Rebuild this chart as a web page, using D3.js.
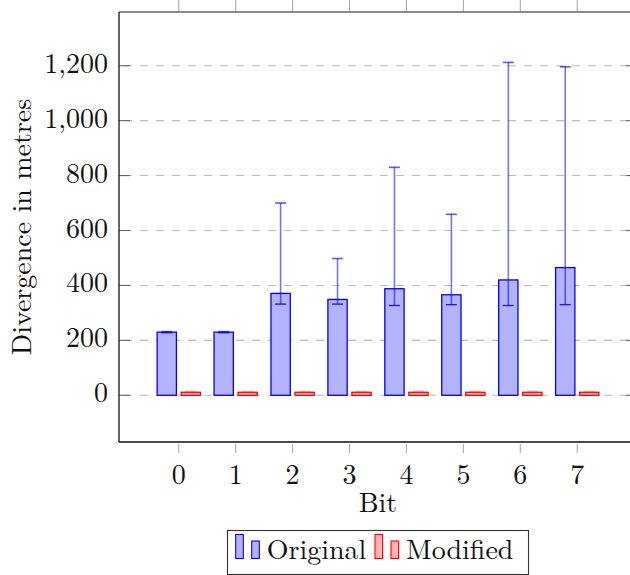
<!DOCTYPE html>
<meta charset="utf-8">
<style>
body { margin: 0; background: white; }
text { font-family: "Latin Modern Roman", "CMU Serif", "Liberation Serif", serif; fill: #111; }
</style>
<div id="chart"></div>
<script src="https://cdn.jsdelivr.net/npm/d3@7"></script>
<script>

// Bits on the x axis
var bits = [0, 1, 2, 3, 4, 5, 6, 7];

// Original series: bar value and error bar range
var original     = [230, 230, 371, 349, 388, 366, 420, 465];
var originalLow  = [228, 228, 332, 332, 327, 330, 327, 330];
var originalHigh = [232, 232, 700, 498, 830, 659, 1212, 1196];

// Modified series
var modified     = [11, 11, 11, 11, 11, 11, 11, 11];
var modifiedHigh = [14, 14, 14, 14, 15, 14, 15, 14];

var yTicks = [0, 200, 400, 600, 800, 1000, 1200];
var legendKeys = ["Original", "Modified"];

var W = 630, H = 575;
var plot = {left: 119, right: 637, top: 12, bottom: 442};

var svg = d3.select("#chart")
  .append("svg")
    .attr("width", W)
    .attr("height", H);

var x = d3.scaleLinear()
  .domain([-1.05, 8.05])
  .range([plot.left, plot.right]);
var y = d3.scaleLinear()
  .domain([-170, 1395.5])
  .range([plot.bottom, plot.top]);

var barW = 19.3, barOff = 12, capW = 11;

// gridlines
svg.append("g")
  .selectAll("line")
  .data(yTicks)
  .enter()
  .append("line")
    .attr("x1", plot.left)
    .attr("x2", plot.right)
    .attr("y1", function(d){ return y(d); })
    .attr("y2", function(d){ return y(d); })
    .attr("stroke", "#bbb")
    .attr("stroke-width", 1.1)
    .attr("stroke-dasharray", "8,8")
    .attr("stroke-dashoffset", -5);

// y ticks (inside, both sides)
var yt = svg.append("g");
yTicks.forEach(function(d) {
  yt.append("line")
    .attr("x1", plot.left).attr("x2", plot.left + 11)
    .attr("y1", y(d)).attr("y2", y(d))
    .attr("stroke", "#666").attr("stroke-width", 1.1);
  yt.append("line")
    .attr("x1", plot.right - 11).attr("x2", plot.right)
    .attr("y1", y(d)).attr("y2", y(d))
    .attr("stroke", "#666").attr("stroke-width", 1.1);
});

// x ticks (outside, top and bottom)
svg.append("g")
  .selectAll("line.xb")
  .data(bits)
  .enter()
  .append("line")
    .attr("x1", function(d){ return x(d); })
    .attr("x2", function(d){ return x(d); })
    .attr("y1", plot.bottom + 2)
    .attr("y2", plot.bottom + 11)
    .attr("stroke", "#aaa").attr("stroke-width", 1.1);
svg.append("g")
  .selectAll("line.xt")
  .data(bits)
  .enter()
  .append("line")
    .attr("x1", function(d){ return x(d); })
    .attr("x2", function(d){ return x(d); })
    .attr("y1", 0)
    .attr("y2", plot.top - 1)
    .attr("stroke", "#aaa").attr("stroke-width", 1.1);

// Original bars
svg.append("g")
  .selectAll("rect")
  .data(bits)
  .enter()
  .append("rect")
    .attr("x", function(d, i){ return x(d) - barOff - barW / 2; })
    .attr("y", function(d, i){ return y(original[i]); })
    .attr("width", barW)
    .attr("height", function(d, i){ return y(0) - y(original[i]); })
    .attr("fill", "#b3b3ff")
    .attr("stroke", "#0000ff")
    .attr("stroke-width", 1.3);

// Modified bars
svg.append("g")
  .selectAll("rect")
  .data(bits)
  .enter()
  .append("rect")
    .attr("x", function(d, i){ return x(d) + barOff - barW / 2; })
    .attr("y", function(d, i){ return y(modified[i]); })
    .attr("width", barW)
    .attr("height", function(d, i){ return y(0) - y(modified[i]); })
    .attr("fill", "#ffb3b3")
    .attr("stroke", "#ff0000")
    .attr("stroke-width", 1.3);

// Original error bars
var eb = svg.append("g");
bits.forEach(function(d, i) {
  var cx = x(d) - barOff;
  eb.append("line")
    .attr("x1", cx).attr("x2", cx)
    .attr("y1", y(originalLow[i])).attr("y2", y(originalHigh[i]))
    .attr("stroke", "#0000ff").attr("stroke-opacity", 0.55).attr("stroke-width", 1.6);
  eb.append("line")
    .attr("x1", cx - capW / 2).attr("x2", cx + capW / 2)
    .attr("y1", y(originalHigh[i])).attr("y2", y(originalHigh[i]))
    .attr("stroke", "#0000ff").attr("stroke-opacity", 0.65).attr("stroke-width", 1.6);
  eb.append("line")
    .attr("x1", cx - capW / 2).attr("x2", cx + capW / 2)
    .attr("y1", y(originalLow[i])).attr("y2", y(originalLow[i]))
    .attr("stroke", "#0000ff").attr("stroke-opacity", 0.85).attr("stroke-width", 1.4);
});

// Modified error bars (tiny)
bits.forEach(function(d, i) {
  var cx = x(d) + barOff;
  eb.append("line")
    .attr("x1", cx - capW / 2).attr("x2", cx + capW / 2)
    .attr("y1", y(modifiedHigh[i])).attr("y2", y(modifiedHigh[i]))
    .attr("stroke", "#ff0000").attr("stroke-opacity", 0.25).attr("stroke-width", 1.4);
});

// axis frame
svg.append("line")
  .attr("x1", plot.left).attr("x2", plot.right)
  .attr("y1", plot.top).attr("y2", plot.top)
  .attr("stroke", "#666").attr("stroke-width", 1.3);
svg.append("line")
  .attr("x1", plot.left).attr("x2", plot.right)
  .attr("y1", plot.bottom).attr("y2", plot.bottom)
  .attr("stroke", "#111").attr("stroke-width", 1.3);
svg.append("line")
  .attr("x1", plot.left).attr("x2", plot.left)
  .attr("y1", plot.top).attr("y2", plot.bottom)
  .attr("stroke", "#111").attr("stroke-width", 1.3);
svg.append("line")
  .attr("x1", plot.right).attr("x2", plot.right)
  .attr("y1", plot.top).attr("y2", plot.bottom)
  .attr("stroke", "#111").attr("stroke-width", 1.3);

// tick labels
var fmt = d3.format(",");
svg.append("g")
  .selectAll("text")
  .data(yTicks)
  .enter()
  .append("text")
    .attr("x", 108)
    .attr("y", function(d){ return y(d) + 7; })
    .attr("text-anchor", "end")
    .style("font-size", "28px")
    .text(function(d){ return fmt(d); });

svg.append("g")
  .selectAll("text")
  .data(bits)
  .enter()
  .append("text")
    .attr("x", function(d){ return x(d); })
    .attr("y", 484)
    .attr("text-anchor", "middle")
    .style("font-size", "28px")
    .text(function(d){ return d; });

// axis labels
svg.append("text")
  .attr("x", (plot.left + plot.right) / 2)
  .attr("y", 512)
  .attr("text-anchor", "middle")
  .style("font-size", "28px")
  .text("Bit");

svg.append("text")
  .attr("transform", "translate(31," + ((plot.top + plot.bottom) / 2) + ") rotate(-90)")
  .attr("text-anchor", "middle")
  .style("font-size", "28px")
  .text("Divergence in metres");

// legend
var lg = svg.append("g");
lg.append("rect")
  .attr("x", 227.5).attr("y", 530.5)
  .attr("width", 301).attr("height", 44)
  .attr("fill", "white")
  .attr("stroke", "#333").attr("stroke-width", 1.1);

var legendColors = [["#b3b3ff", "#0000ff"], ["#ffb3b3", "#ff0000"]];
var legendX = [235.7, 375];
legendKeys.forEach(function(k, i) {
  var lx = legendX[i];
  lg.append("rect")
    .attr("x", lx).attr("y", 534.5)
    .attr("width", 7.6).attr("height", 24)
    .attr("fill", legendColors[i][0]).attr("stroke", legendColors[i][1]).attr("stroke-width", 1.1);
  lg.append("rect")
    .attr("x", lx + 16).attr("y", 541)
    .attr("width", 7.6).attr("height", 17.5)
    .attr("fill", legendColors[i][0]).attr("stroke", legendColors[i][1]).attr("stroke-width", 1.1);
  lg.append("text")
    .attr("x", lx + 31)
    .attr("y", 559)
    .style("font-size", "28px")
    .text(k);
});

</script>
